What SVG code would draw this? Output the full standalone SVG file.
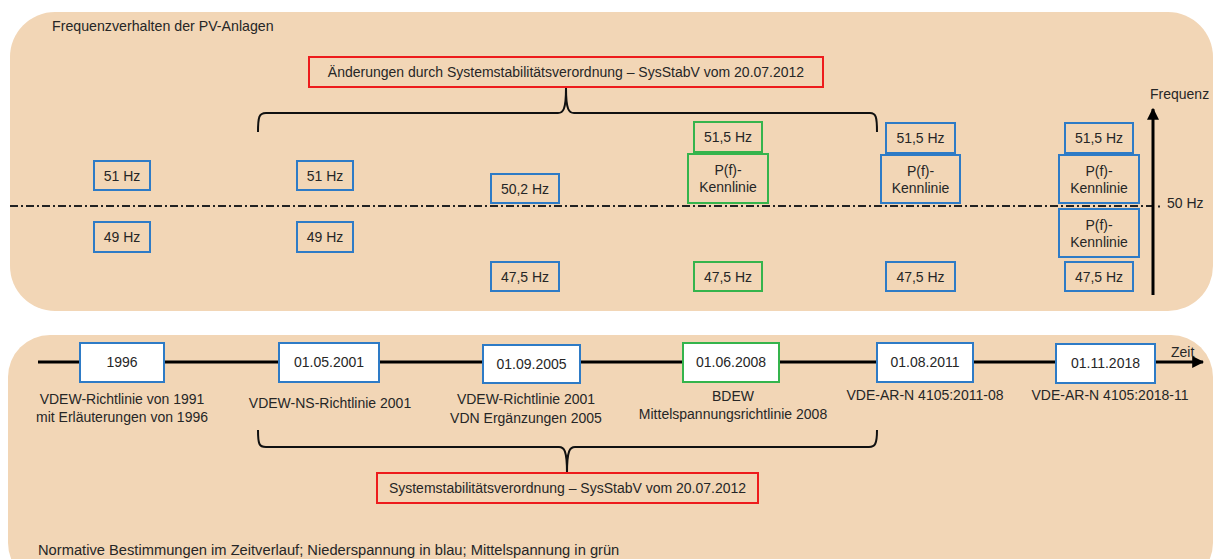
<svg xmlns="http://www.w3.org/2000/svg" width="1214" height="559" viewBox="0 0 1214 559">
<defs>
<style>
text{font-family:"Liberation Sans",Arial,sans-serif;font-size:14px;fill:#262626}
.c{text-anchor:middle}
.panel{fill:#F2D6B6}
.b{fill:none;stroke:#2E7BC6;stroke-width:2}
.g{fill:none;stroke:#35B44C;stroke-width:2}
.bw{fill:#fff;stroke:#2E7BC6;stroke-width:2}
.gw{fill:#fff;stroke:#35B44C;stroke-width:2}
.r{fill:none;stroke:#EE1C1C;stroke-width:2}
.brace{fill:none;stroke:#111;stroke-width:2}
.axis{stroke:#000;stroke-width:3;fill:none}
.dd{stroke:#222;stroke-width:2;stroke-dasharray:8 3 2 3;fill:none}
</style>
<marker id="ah" viewBox="0 0 10 10" refX="9" refY="5" markerWidth="4" markerHeight="4" orient="auto" markerUnits="strokeWidth">
<path d="M0,0 L10,5 L0,10 z" fill="#000"/>
</marker>
</defs>

<rect class="panel" x="10" y="12" width="1203" height="299" rx="45" ry="45"/>
<rect class="panel" x="8" y="335" width="1205" height="250" rx="42" ry="42"/>

<text x="52" y="31" style="font-size:14.2px">Frequenzverhalten der PV-Anlagen</text>
<text x="38" y="555" style="font-size:14.7px">Normative Bestimmungen im Zeitverlauf; Niederspannung in blau; Mittelspannung in grün</text>

<g id="connectors">
<line class="dd" x1="10" y1="206" x2="1152" y2="206"/>
<line x1="1158" y1="206.5" x2="1160" y2="206.5" stroke="#222" stroke-width="2"/>
<line class="axis" x1="1153" y1="295" x2="1153" y2="109" marker-end="url(#ah)"/>
<line class="axis" x1="38" y1="362" x2="1203" y2="362" marker-end="url(#ah)"/>
<path class="brace" d="M258,132 C258,117 259,113 266,113 L558,113 C563,113 566,110 566,88 C566,110 569,113 574,113 L870,113 C876,113 877,117 877,132"/>
<path class="brace" d="M258,430 C258,444 259,447 266,447 L559,447 C564,447 567,450 567,473 C567,450 570,447 575,447 L869,447 C875,447 877,444 877,430"/>
</g>

<text x="1150" y="99">Frequenz</text>
<text x="1167" y="208">50 Hz</text>
<text x="1171" y="357">Zeit</text>

<g id="top-red">
<rect class="r" x="309" y="57" width="514" height="30"/>
<text class="c" x="566" y="77">Änderungen durch Systemstabilitätsverordnung – SysStabV vom 20.07.2012</text>
</g>

<g id="col1">
<rect class="b" x="94" y="161" width="56" height="29"/><text class="c" x="122" y="180.5">51 Hz</text>
<rect class="b" x="94" y="222" width="56" height="30"/><text class="c" x="122" y="242">49 Hz</text>
</g>
<g id="col2">
<rect class="b" x="297" y="161" width="56" height="29"/><text class="c" x="325" y="180.5">51 Hz</text>
<rect class="b" x="297" y="222" width="56" height="30"/><text class="c" x="325" y="242">49 Hz</text>
</g>
<g id="col3">
<rect class="b" x="491" y="174" width="68" height="29"/><text class="c" x="525" y="193.5">50,2 Hz</text>
<rect class="b" x="491" y="262" width="68" height="29"/><text class="c" x="525" y="281.5">47,5 Hz</text>
</g>
<g id="col4">
<rect class="g" x="694" y="122" width="68" height="30"/><text class="c" x="728" y="142">51,5 Hz</text>
<rect class="g" x="688" y="154" width="80" height="49"/><text class="c" x="728" y="175">P(f)-</text><text class="c" x="728" y="192">Kennlinie</text>
<rect class="g" x="694" y="262" width="68" height="29"/><text class="c" x="728" y="281.5">47,5 Hz</text>
</g>
<g id="col5">
<rect class="b" x="886" y="123" width="69" height="30"/><text class="c" x="920.5" y="143">51,5 Hz</text>
<rect class="b" x="881" y="155" width="79" height="48"/><text class="c" x="920.5" y="175.5">P(f)-</text><text class="c" x="920.5" y="192.5">Kennlinie</text>
<rect class="b" x="886" y="262" width="69" height="29"/><text class="c" x="920.5" y="281.5">47,5 Hz</text>
</g>
<g id="col6">
<rect class="b" x="1065" y="123" width="68" height="30"/><text class="c" x="1099" y="143">51,5 Hz</text>
<rect class="b" x="1059" y="155" width="80" height="48"/><text class="c" x="1099" y="175.5">P(f)-</text><text class="c" x="1099" y="192.5">Kennlinie</text>
<rect class="b" x="1059" y="209" width="80" height="48"/><text class="c" x="1099" y="229.5">P(f)-</text><text class="c" x="1099" y="246.5">Kennlinie</text>
<rect class="b" x="1065" y="262" width="68" height="29"/><text class="c" x="1099" y="281.5">47,5 Hz</text>
</g>

<g id="t1996">
<rect class="bw" x="80" y="343" width="84" height="39"/><text class="c" x="122" y="367">1996</text>
<text class="c" x="122" y="404">VDEW-Richtlinie von 1991</text>
<text class="c" x="122" y="422">mit Erläuterungen von 1996</text>
</g>
<g id="t2001">
<rect class="bw" x="279" y="343" width="100" height="39"/><text class="c" x="329" y="367">01.05.2001</text>
<text class="c" x="330" y="408">VDEW-NS-Richtlinie 2001</text>
</g>
<g id="t2005">
<rect class="bw" x="483" y="345" width="97" height="38"/><text class="c" x="531.5" y="369">01.09.2005</text>
<text class="c" x="526" y="404">VDEW-Richtlinie 2001</text>
<text class="c" x="526" y="423">VDN Ergänzungen 2005</text>
</g>
<g id="t2008">
<rect class="gw" x="683" y="343" width="96" height="39"/><text class="c" x="731" y="367">01.06.2008</text>
<text class="c" x="733" y="401">BDEW</text>
<text class="c" x="733" y="419">Mittelspannungsrichtlinie 2008</text>
</g>
<g id="t2011">
<rect class="bw" x="877" y="343" width="96" height="39"/><text class="c" x="925" y="367">01.08.2011</text>
<text class="c" x="925" y="400">VDE-AR-N 4105:2011-08</text>
</g>
<g id="t2018">
<rect class="bw" x="1056" y="344" width="99" height="39"/><text class="c" x="1105.5" y="368">01.11.2018</text>
<text class="c" x="1110" y="400">VDE-AR-N 4105:2018-11</text>
</g>

<g id="bottom-red">
<rect class="r" x="377" y="473" width="381" height="30"/>
<text class="c" x="567.5" y="493">Systemstabilitätsverordnung – SysStabV vom 20.07.2012</text>
</g>
</svg>
